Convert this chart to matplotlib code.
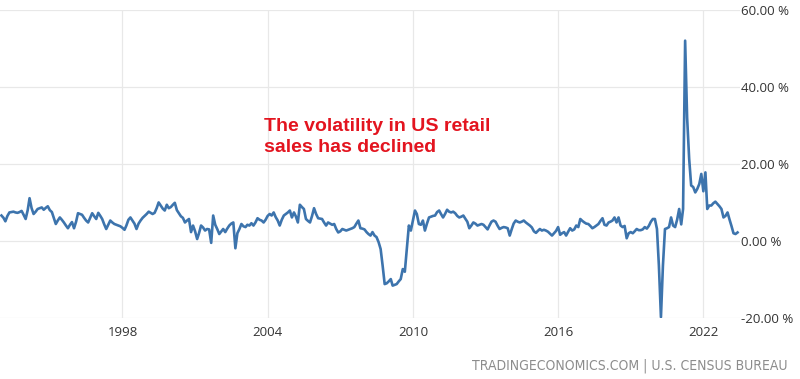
import numpy as np
import pandas as pd
import matplotlib
matplotlib.use("Agg")
import matplotlib.pyplot as plt
import matplotlib.dates as mdates
from matplotlib.ticker import FuncFormatter

# US retail sales, YoY % change, monthly from Jan 1993
v1993 = [6.6, 6.0, 5.1, 6.5, 7.4, 7.5, 7.6, 7.4, 7.3, 7.5, 7.8, 6.8]
v1994 = [5.7, 8.0, 11.1, 8.5, 7.0, 7.6, 8.3, 8.5, 8.7, 8.1, 8.6, 9.0]
v1995 = [8.0, 7.5, 6.0, 4.4, 5.3, 6.1, 5.5, 4.8, 4.0, 3.3, 4.2, 4.9]
v1996 = [3.3, 5.0, 7.2, 7.0, 6.8, 6.0, 5.3, 4.8, 6.0, 7.2, 6.4, 5.7]
v1997 = [7.3, 6.5, 5.7, 4.3, 3.1, 4.2, 5.3, 4.8, 4.4, 4.2, 4.0, 3.8]
v1998 = [3.4, 2.9, 4.0, 5.5, 6.1, 5.3, 4.5, 3.1, 4.5, 5.3, 6.0, 6.5]
v1999 = [7.0, 7.6, 7.3, 7.0, 7.3, 8.5, 10.0, 9.2, 8.4, 7.9, 9.4, 8.5]
v2000 = [8.8, 9.4, 9.9, 8.0, 7.2, 6.4, 6.0, 4.8, 5.3, 5.7, 2.3, 4.0]
v2001 = [2.5, 0.5, 2.0, 4.0, 3.5, 2.7, 3.1, 3.0, -0.5, 6.6, 4.2, 3.1]
v2002 = [1.8, 2.5, 3.1, 2.3, 3.2, 4.0, 4.5, 4.8, -1.9, 2.0, 3.1, 4.4]
v2003 = [3.8, 3.6, 4.2, 4.0, 4.6, 4.0, 4.8, 5.9, 5.5, 5.3, 4.8, 5.5]
v2004 = [6.5, 7.0, 6.6, 7.4, 6.2, 5.3, 4.0, 5.5, 6.6, 7.0, 7.4, 7.9]
v2005 = [6.1, 7.4, 6.4, 4.8, 9.4, 8.8, 8.3, 5.7, 5.2, 4.8, 6.5, 8.5]
v2006 = [7.0, 5.9, 5.8, 5.7, 4.8, 4.0, 4.8, 4.5, 4.2, 4.4, 3.1, 2.2]
v2007 = [2.5, 3.1, 2.9, 2.7, 2.9, 3.1, 3.3, 3.6, 4.5, 5.3, 3.3, 3.2]
v2008 = [3.0, 2.3, 1.8, 1.4, 2.3, 1.4, 1.0, -0.3, -2.1, -6.4, -11.2, -11.0]
v2009 = [-10.5, -9.9, -11.6, -11.4, -11.2, -10.5, -9.9, -7.3, -8.0, -2.1, 4.0, 2.7]
v2010 = [5.3, 7.9, 7.0, 4.4, 4.2, 5.3, 2.7, 4.5, 6.1, 6.3, 6.5, 6.6]
v2011 = [7.5, 7.9, 7.0, 6.1, 7.0, 8.1, 7.6, 7.4, 7.6, 7.2, 6.5, 6.1]
v2012 = [6.3, 6.6, 5.8, 5.0, 3.3, 4.0, 4.8, 4.5, 4.0, 4.2, 4.4, 4.2]
v2013 = [3.6, 3.0, 4.0, 5.0, 5.3, 5.0, 4.0, 3.1, 3.4, 3.6, 3.5, 3.3]
v2014 = [1.4, 3.1, 4.5, 5.3, 5.0, 4.8, 5.0, 5.3, 4.8, 4.4, 4.0, 3.5]
v2015 = [2.5, 2.1, 2.6, 3.1, 2.7, 2.9, 2.7, 2.4, 1.9, 1.4, 2.0, 2.6]
v2016 = [3.6, 1.6, 2.0, 2.3, 1.4, 2.4, 3.3, 2.7, 3.0, 4.0, 3.6, 5.7]
v2017 = [5.2, 4.8, 4.5, 4.4, 3.9, 3.3, 3.6, 4.0, 4.4, 5.2, 5.9, 4.2]
v2018 = [4.0, 4.8, 5.0, 5.3, 6.1, 4.8, 6.1, 4.0, 3.6, 3.9, 0.7, 2.0]
v2019 = [2.3, 2.0, 2.5, 3.1, 2.8, 2.8, 3.0, 3.6, 3.2, 3.9, 5.0, 5.7]
v2020 = [5.7, 3.1, -6.4, -19.8, -6.4, 3.1, 3.3, 3.6, 6.1, 4.0, 3.6, 5.5]
v2021 = [8.3, 4.3, 8.3, 52.0, 32.0, 21.3, 14.4, 14.0, 12.6, 13.5, 14.8, 17.4]
v2022 = [12.9, 17.8, 8.3, 9.2, 9.2, 9.8, 10.2, 9.6, 9.0, 8.3, 6.1, 6.5]
v2023 = [7.4, 5.5, 3.9, 2.0, 1.8, 2.2]

values = (v1993 + v1994 + v1995 + v1996 + v1997 + v1998 + v1999 + v2000 + v2001 + v2002
          + v2003 + v2004 + v2005 + v2006 + v2007 + v2008 + v2009 + v2010 + v2011 + v2012
          + v2013 + v2014 + v2015 + v2016 + v2017 + v2018 + v2019 + v2020 + v2021 + v2022
          + v2023)
dates = pd.date_range("1993-01-01", periods=len(values), freq="MS")

tick_years = [1998, 2004, 2010, 2016, 2022]
y_ticks = [-20, 0, 20, 40, 60]

note = "The volatility in US retail\nsales has declined"
source = "TRADINGECONOMICS.COM | U.S. CENSUS BUREAU"

fig = plt.figure(figsize=(8, 3.79), dpi=100)
ax = fig.add_axes([0.0, 0.161, 0.925, 0.813])

ax.plot(dates, values, color="#3d74ad", lw=1.9, solid_joinstyle="round")

ax.set_ylim(-20, 60)
ax.set_yticks(y_ticks)
ax.yaxis.set_major_formatter(FuncFormatter(lambda v, p: "%.2f %%" % v))
ax.yaxis.tick_right()
ax.set_xticks([pd.Timestamp(str(y)) for y in tick_years])
ax.xaxis.set_major_formatter(mdates.DateFormatter("%Y"))
ax.set_xlim(pd.Timestamp("1992-12-10"), pd.Timestamp("2023-07-08"))

ax.grid(True, color="#e8e8e8", lw=0.9)
ax.set_axisbelow(True)
for s in ax.spines.values():
    s.set_visible(False)
ax.tick_params(axis="both", length=0, labelcolor="#333333", labelsize=9.5)
ax.tick_params(axis="y", pad=1)
ax.tick_params(axis="x", pad=6)
for lab in ax.get_xticklabels() + ax.get_yticklabels():
    lab.set_fontfamily(["Open Sans", "DejaVu Sans"])

fig.text(0.33, 0.689, note, color="#e3141f", fontsize=14, fontweight="bold",
         family=["Liberation Sans", "DejaVu Sans"], va="top", ha="left", linespacing=1.3)
fig.text(0.984, 0.034, source, color="#8c8c8c", fontsize=10,
         family=["DejaVu Sans"], fontstretch="condensed", ha="right", va="center")

fig.savefig("out.png", dpi=100, facecolor="white")
